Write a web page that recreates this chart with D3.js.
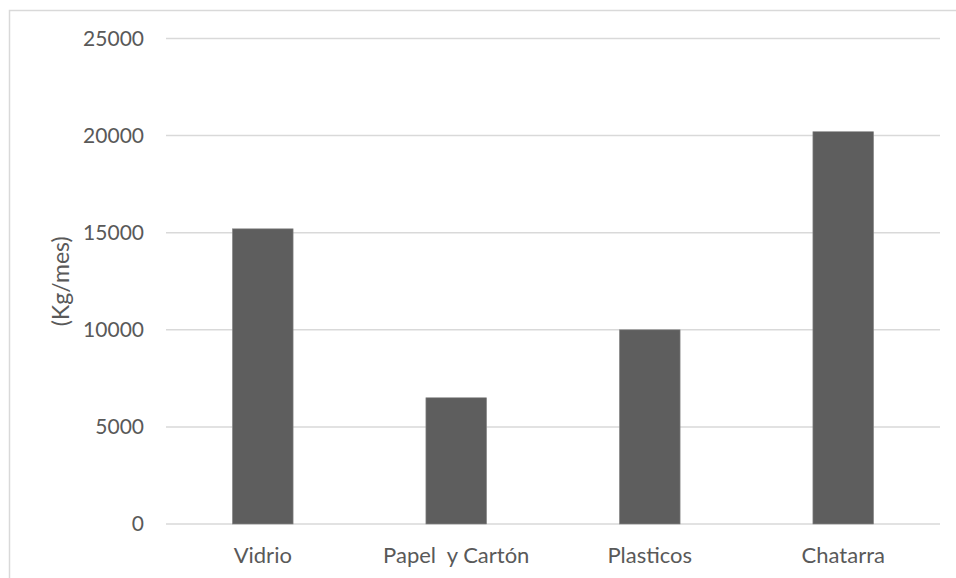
<!DOCTYPE html>
<html>
<head>
<meta charset="utf-8">
<script src="https://cdn.jsdelivr.net/npm/d3@7"></script>
<style>
  html, body { margin: 0; padding: 0; background: #fff; }
  svg { display: block; }
  text { font-family: Lato, "Open Sans", sans-serif; fill: #595959; }
</style>
</head>
<body>
<svg id="chart" width="956" height="578"></svg>
<script>
// Monthly recyclable material collected, by category (Kg/mes)
const categories = ["Vidrio", "Papel  y Cartón", "Plasticos", "Chatarra"];
const values = [15200, 6500, 10000, 20200];
const yTicks = [0, 5000, 10000, 15000, 20000, 25000];
const yLabel = "(Kg/mes)";

const W = 956, H = 578;
const margin = { left: 166, right: 16, top: 38.5, bottom: 54 };

const svg = d3.select("#chart");

// chart area frame (left and top edges visible)
svg.append("rect")
  .attr("x", 9.5).attr("y", 10.5)
  .attr("width", W + 20).attr("height", H + 20)
  .attr("fill", "none").attr("stroke", "#d9d9d9").attr("stroke-width", 1.5);

const x = d3.scaleBand()
  .domain(categories)
  .range([margin.left, W - margin.right])
  .paddingInner(0.687)
  .paddingOuter(0.3435);

const y = d3.scaleLinear()
  .domain([0, 25000])
  .range([H - margin.bottom, margin.top]);

// horizontal gridlines
svg.append("g")
  .selectAll("line")
  .data(yTicks)
  .join("line")
  .attr("x1", margin.left).attr("x2", W - margin.right)
  .attr("y1", d => y(d)).attr("y2", d => y(d))
  .attr("stroke", "#d9d9d9").attr("stroke-width", 1.5);

// y axis tick labels
const yAxis = d3.axisLeft(y).tickValues(yTicks).tickSize(0).tickPadding(0).tickFormat(d3.format("d"));
const gy = svg.append("g")
  .attr("transform", `translate(${margin.left - 22},0)`)
  .call(yAxis);
gy.select(".domain").remove();
gy.selectAll("text")
  .attr("font-size", 21)
  .style("font-family", "Lato, 'Open Sans', sans-serif")
  .attr("fill", "#595959");

// bars
const barW = 60.7;
svg.append("g")
  .selectAll("rect")
  .data(categories.map((c, i) => ({ c, v: values[i] })))
  .join("rect")
  .attr("x", d => x(d.c) + x.bandwidth() / 2 - barW / 2)
  .attr("width", barW)
  .attr("y", d => y(d.v))
  .attr("height", d => y(0) - y(d.v))
  .attr("fill", "#5e5e5e")
  .attr("stroke", "#8a8a8a")
  .attr("stroke-width", 0.6);

// x axis category labels
const xAxis = d3.axisBottom(x).tickSize(0).tickPadding(0);
const gx = svg.append("g")
  .attr("transform", `translate(0,${y(0) + 23})`)
  .call(xAxis);
gx.select(".domain").remove();
gx.selectAll("text")
  .attr("font-size", 22)
  .style("font-family", "Lato, 'Open Sans', sans-serif")
  .style("white-space", "pre")
  .attr("fill", "#595959");

// y axis title
svg.append("text")
  .attr("transform", `translate(69,${(y(0) + y(25000)) / 2}) rotate(-90)`)
  .attr("text-anchor", "middle")
  .attr("font-size", 23)
  .text(yLabel);
</script>
</body>
</html>
